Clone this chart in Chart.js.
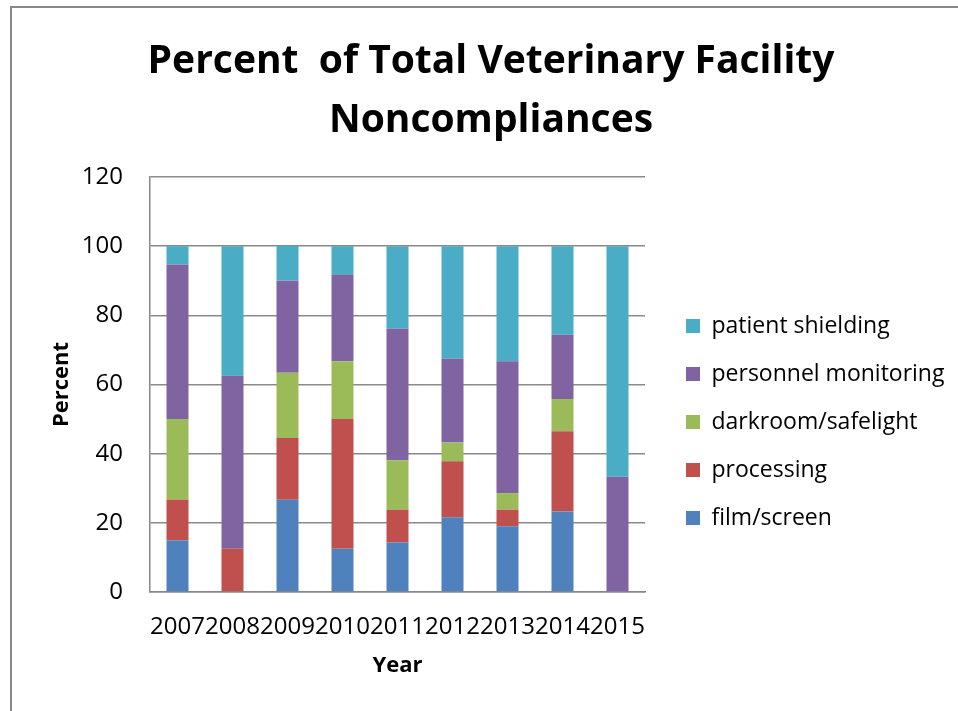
<!DOCTYPE html>
<html>
<head>
<meta charset="utf-8">
<script src="https://cdn.jsdelivr.net/npm/chart.js@4"></script>
<style>
  html, body { margin: 0; padding: 0; background: #fff; }
  #wrap { width: 958px; height: 711px; position: relative; }
</style>
</head>
<body>
<div id="wrap"><canvas id="c"></canvas></div>
<script>
const categories = ['2007','2008','2009','2010','2011','2012','2013','2014','2015'];
const filmScreen = [15.0, 0, 26.7, 12.5, 14.3, 21.6, 19.0, 23.3, 0];
const processing = [11.7, 12.5, 17.8, 37.5, 9.5, 16.2, 4.8, 23.2, 0];
const darkroomSafelight = [23.3, 0, 18.9, 16.7, 14.3, 5.4, 4.8, 9.3, 0];
const personnelMonitoring = [44.7, 50.0, 26.7, 25.0, 38.1, 24.3, 38.1, 18.6, 33.3];
const patientShielding = [5.3, 37.5, 10.0, 8.3, 23.8, 32.5, 33.3, 25.6, 66.7];
const seriesNames = ['film/screen','processing','darkroom/safelight','personnel monitoring','patient shielding'];
const yTicks = [0, 20, 40, 60, 80, 100, 120];
const titleLines = ['Percent  of Total Veterinary Facility', 'Noncompliances'];

const colors = ['#4F81BD', '#C0504D', '#9BBB59', '#8064A2', '#4BACC6'];
const seriesData = [filmScreen, processing, darkroomSafelight, personnelMonitoring, patientShielding];
const FONT = '"Open Sans", Lato, "Liberation Sans", sans-serif';

const layoutPlugin = {
  id: 'layoutFix',
  beforeLayout(chart) {
    const lg = chart.legend;
    if (lg && !lg._patched) {
      const orig = lg.fit.bind(lg);
      lg.fit = function () { orig(); this.width = 313; };
      lg._patched = true;
    }
  },
  afterLayout(chart) {
    const lg = chart.legend;
    if (lg) {
      lg.left = 661; lg.right = 958;
      lg.top = 144; lg.bottom = 700;
    }
  },
  beforeDraw(chart) {
    const ctx = chart.ctx;
    ctx.save();
    ctx.strokeStyle = '#888888';
    ctx.lineWidth = 2;
    ctx.beginPath();
    ctx.moveTo(11, 720);
    ctx.lineTo(11, 7);
    ctx.lineTo(970, 7);
    ctx.stroke();
    ctx.restore();
  }
};

new Chart(document.getElementById('c'), {
  type: 'bar',
  data: {
    labels: categories,
    datasets: seriesData.map((d, i) => ({
      label: seriesNames[i],
      data: d,
      backgroundColor: colors[i],
      borderWidth: 0,
      barPercentage: 0.4,
      categoryPercentage: 1.0
    }))
  },
  options: {
    responsive: true,
    maintainAspectRatio: false,
    animation: false,
    layout: { padding: { left: 24, right: 0, top: 0, bottom: 0 } },
    plugins: {
      title: {
        display: true,
        text: titleLines,
        color: '#000',
        font: { family: FONT, size: 39, weight: 'bold', lineHeight: '59px' },
        padding: { top: 32, bottom: 27 }
      },
      legend: {
        display: true,
        position: 'right',
        reverse: true,
        labels: {
          color: '#000',
          font: { family: FONT, size: 23 },
          boxWidth: 14,
          boxHeight: 14,
          padding: 25
        }
      },
      tooltip: { enabled: false }
    },
    scales: {
      x: {
        stacked: true,
        grid: { display: false, drawTicks: false },
        border: { display: true, color: '#888888', width: 1.5 },
        ticks: { color: '#000', font: { family: FONT, size: 24 }, padding: 21, autoSkip: false, maxRotation: 0, minRotation: 0 },
        title: { display: true, text: 'Year', color: '#000', font: { family: FONT, size: 22, weight: 'bold' }, padding: { top: 0, bottom: 32 } },
        afterFit(scale) { scale.height = 711 - 592; }
      },
      y: {
        stacked: true,
        min: 0,
        max: 120,
        grid: { color: '#8a8a8a', lineWidth: 1.5, drawTicks: false },
        border: { display: true, color: '#888888', width: 1.5 },
        afterBuildTicks(scale) { scale.ticks = yTicks.map(v => ({ value: v })); },
        ticks: { color: '#000', font: { family: FONT, size: 24 }, padding: 27 },
        title: { display: true, text: 'Percent', color: '#000', font: { family: FONT, size: 22, weight: 'bold' }, padding: { top: 25, bottom: 0 } },
        afterFit(scale) { scale.width = 126; }
      }
    }
  },
  plugins: [layoutPlugin]
});
</script>
</body>
</html>
